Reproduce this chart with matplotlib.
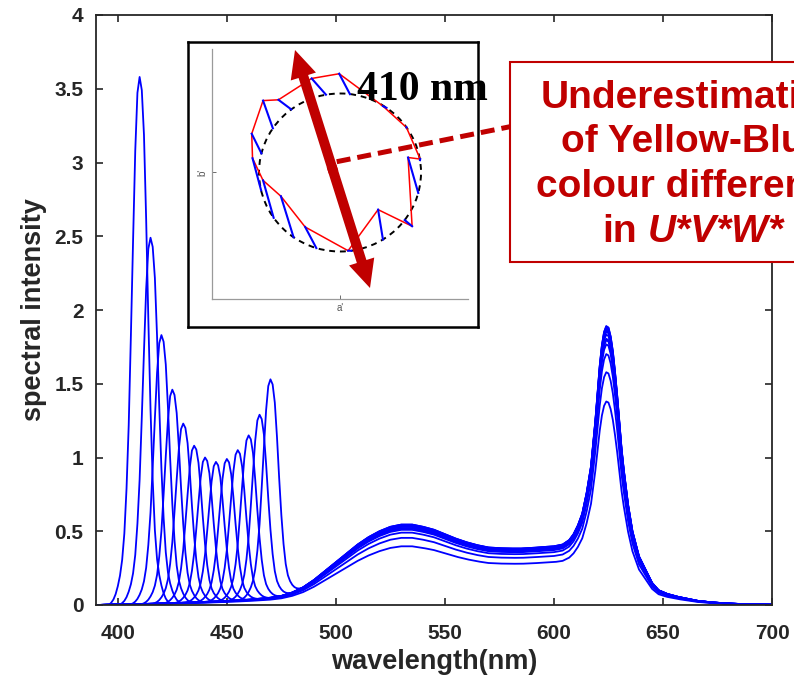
import numpy as np
import matplotlib
matplotlib.use("Agg")
import matplotlib.pyplot as plt
from matplotlib.patches import Rectangle, Circle, FancyArrowPatch
from matplotlib.lines import Line2D

W, H = 794, 681
DARK_RED = "#C00000"
AXIS_GREY = "#262626"

# narrow-band blue primaries, one spectrum each
peak_nm = [410, 415, 420, 425, 430, 435, 440, 445, 450, 455, 460, 465, 470]
peak_height = [3.58, 2.49, 1.83, 1.46, 1.23, 1.08, 1.00, 0.97, 0.99, 1.05, 1.15, 1.29, 1.53]
# weight of the broadband (phosphor) part in each spectrum
white_scale = [0.73, 0.835, 0.90, 0.935, 0.95, 0.955, 0.97, 0.98, 0.985, 0.99, 0.995, 1.0, 1.0]

# band shape around a peak: offset in nm -> fraction of peak height
band_offset = [-14, -13, -12, -11, -10, -9, -8, -7, -6, -5, -4, -3, -2, -1, 0,
               1, 2, 3, 4, 5, 6, 7, 8, 9, 10, 11, 12, 13, 14]
band_shape = [0.0, 0.004, 0.01, 0.02, 0.035, 0.055, 0.085, 0.135, 0.22, 0.34, 0.51, 0.69, 0.86, 0.97, 1.0,
              0.975, 0.89, 0.73, 0.54, 0.37, 0.235, 0.14, 0.085, 0.055, 0.035, 0.02, 0.01, 0.004, 0.0]

# broadband part (green hump + red peak)
white_nm = [390, 400, 410, 420, 430, 440, 450, 460, 470, 475, 480, 485, 490, 495, 500, 505, 510,
            515, 520, 525, 530, 535, 540, 545, 550, 555, 560, 565, 570, 575, 580, 585, 590,
            595, 600, 604, 607, 609, 611, 613, 615, 617, 619, 621, 622, 623, 624, 625, 626,
            627, 628, 629, 630, 631, 632, 634, 636, 639, 642, 645, 648, 652, 657, 662, 666,
            672, 680, 690, 700]
white_val = [0.0, 0.003, 0.006, 0.010, 0.015, 0.021, 0.028, 0.037, 0.050, 0.062, 0.085, 0.12, 0.17,
             0.23, 0.29, 0.35, 0.41, 0.46, 0.50, 0.53, 0.545, 0.545, 0.53, 0.51, 0.48, 0.45, 0.425,
             0.405, 0.39, 0.385, 0.383, 0.383, 0.387, 0.393, 0.398, 0.41, 0.44, 0.48, 0.54, 0.62,
             0.76, 0.94, 1.25, 1.62, 1.76, 1.85, 1.89, 1.88, 1.82,
             1.72, 1.58, 1.42, 1.24, 1.06, 0.92, 0.68, 0.50, 0.33, 0.24, 0.15, 0.10, 0.075, 0.055,
             0.04, 0.028, 0.018, 0.01, 0.004, 0.002]

xticks = [400, 450, 500, 550, 600, 650, 700]
yticks = [0, 0.5, 1, 1.5, 2, 2.5, 3, 3.5, 4]

# inset: a'b' plane, predicted points (red) vs. hue circle (dashed) and their offsets (blue)
pred_a = [-0.01, 0.53, 0.82, 0.99, 0.84, 0.89, 0.47, 0.10, -0.43, -0.73, -0.95, -1.08, -1.09, -0.95, -0.76, -0.35]
pred_b = [1.25, 0.84, 0.57, 0.17, 0.19, -0.68, -0.47, -0.99, -0.69, -0.30, -0.10, 0.18, 0.49, 0.91, 0.92, 1.19]
circle_deg = [83, 55, 35, 9, -15, -37, -58, -82, -107, -125, -145, -167, 166, 146, 127, 100]

plt.rcParams["font.family"] = ["Liberation Sans", "DejaVu Sans"]


def px(x, y):
    # figure pixel position -> figure fraction
    return x / W, 1 - y / H


fig = plt.figure(figsize=(W / 100, H / 100), dpi=100)

ax = fig.add_axes([96 / W, 1 - 605 / H, 676 / W, 590 / H])
grid = np.arange(390, 701)
white = np.interp(grid, white_nm, white_val)
for nm, h, s in zip(peak_nm, peak_height, white_scale):
    spec = s * white
    idx = np.searchsorted(grid, nm) + np.array(band_offset)
    base = s * np.interp(nm, white_nm, white_val)
    spec[idx] += (h - base) * np.array(band_shape)
    ax.plot(grid, spec, color="#0000FF", lw=1.3)

ax.set_xlim(390, 700)
ax.set_ylim(0, 4)
ax.set_xticks(xticks)
ax.set_yticks(yticks)
ax.set_yticklabels(["0", "0.5", "1", "1.5", "2", "2.5", "3", "3.5", "4"])
ax.tick_params(direction="in", length=5, width=1.2, top=True, right=True,
               labelsize=15, colors=AXIS_GREY)
ax.tick_params(axis="x", pad=14)
ax.tick_params(axis="y", pad=9)
for lbl in ax.get_xticklabels() + ax.get_yticklabels():
    lbl.set_fontweight("bold")
for sp in ax.spines.values():
    sp.set_color(AXIS_GREY)
    sp.set_linewidth(1.3)
ax.set_xlabel("wavelength(nm)", fontsize=19.5, fontweight="bold", color=AXIS_GREY, labelpad=4)
ax.set_ylabel("spectral intensity", fontsize=19.5, fontweight="bold", color=AXIS_GREY, labelpad=5)

# framed inset
box_ax = fig.add_axes([188 / W, 1 - 327 / H, 290 / W, 285 / H])
box_ax.set_xticks([])
box_ax.set_yticks([])
for sp in box_ax.spines.values():
    sp.set_color("black")
    sp.set_linewidth(1.8)

in_ax = fig.add_axes([211.7 / W, 1 - 299 / H, 256.3 / W, 250 / H])
in_ax.patch.set_alpha(0)
in_ax.set_xlim(-1.584, 1.58)
in_ax.set_ylim(-1.601, 1.563)
for side in ["top", "right"]:
    in_ax.spines[side].set_visible(False)
for side in ["left", "bottom"]:
    in_ax.spines[side].set_color("#9a9a9a")
    in_ax.spines[side].set_linewidth(0.9)
in_ax.set_xticks([0])
in_ax.set_xticklabels(["a'"])
in_ax.set_yticks([0])
in_ax.set_yticklabels(["b'"], rotation=90, va="center")
in_ax.tick_params(direction="in", length=3, width=0.6, colors="#555555", labelsize=7, pad=3)

in_ax.add_patch(Circle((0, 0), 1, fill=False, ec="black", lw=1.4, ls=(0, (3, 2.5)), zorder=2))
in_ax.plot(pred_a + pred_a[:1], pred_b + pred_b[:1], color="red", lw=1.1, zorder=3)
for a, b, d in zip(pred_a, pred_b, circle_deg):
    t = np.deg2rad(d)
    in_ax.plot([a, np.cos(t)], [b, np.sin(t)], color="blue", lw=1.5, zorder=4)

# dashed leader to the callout
fig.add_artist(Line2D([336.7 / W, 510 / W], [1 - 161.7 / H, 1 - 126.7 / H], color=DARK_RED,
                      lw=3.6, dashes=(2.8, 1.4), zorder=9))

# double-headed yellow-blue arrow, drawn as two halves from the middle
for tip, back in [((295, 50), (333.5, 172)), ((370, 288), (331.5, 166))]:
    fig.add_artist(FancyArrowPatch(px(*back), px(*tip), transform=fig.transFigure,
                                   arrowstyle="simple,head_length=2.0,head_width=1.9,tail_width=0.72",
                                   mutation_scale=10, color=DARK_RED, lw=0,
                                   shrinkA=0, shrinkB=0, zorder=10))

fig.text(*px(357, 100), "410 nm", fontfamily="Liberation Serif", fontweight="bold",
         fontsize=30, color="black", ha="left", va="baseline", zorder=11)

# callout box
fig.add_artist(Rectangle(px(510, 261.7), 380 / W, 200 / H, transform=fig.transFigure,
                         fc="white", ec=DARK_RED, lw=1.5, zorder=8))
for txt, yb in [("Underestimation", 108.3), ("of Yellow-Blue", 151.7), ("colour difference", 196.7)]:
    fig.text(*px(694, yb), txt, fontsize=28, fontweight="bold", color=DARK_RED,
             ha="center", va="baseline", zorder=11)
fig.text(*px(602, 241.7), "in", fontsize=28, fontweight="bold", color=DARK_RED,
         ha="left", va="baseline", zorder=11)
fig.text(*px(648, 241.7), "U*V*W*", fontsize=28, fontweight="bold", fontstyle="italic",
         color=DARK_RED, ha="left", va="baseline", zorder=11)

fig.savefig("out.png", dpi=100)
